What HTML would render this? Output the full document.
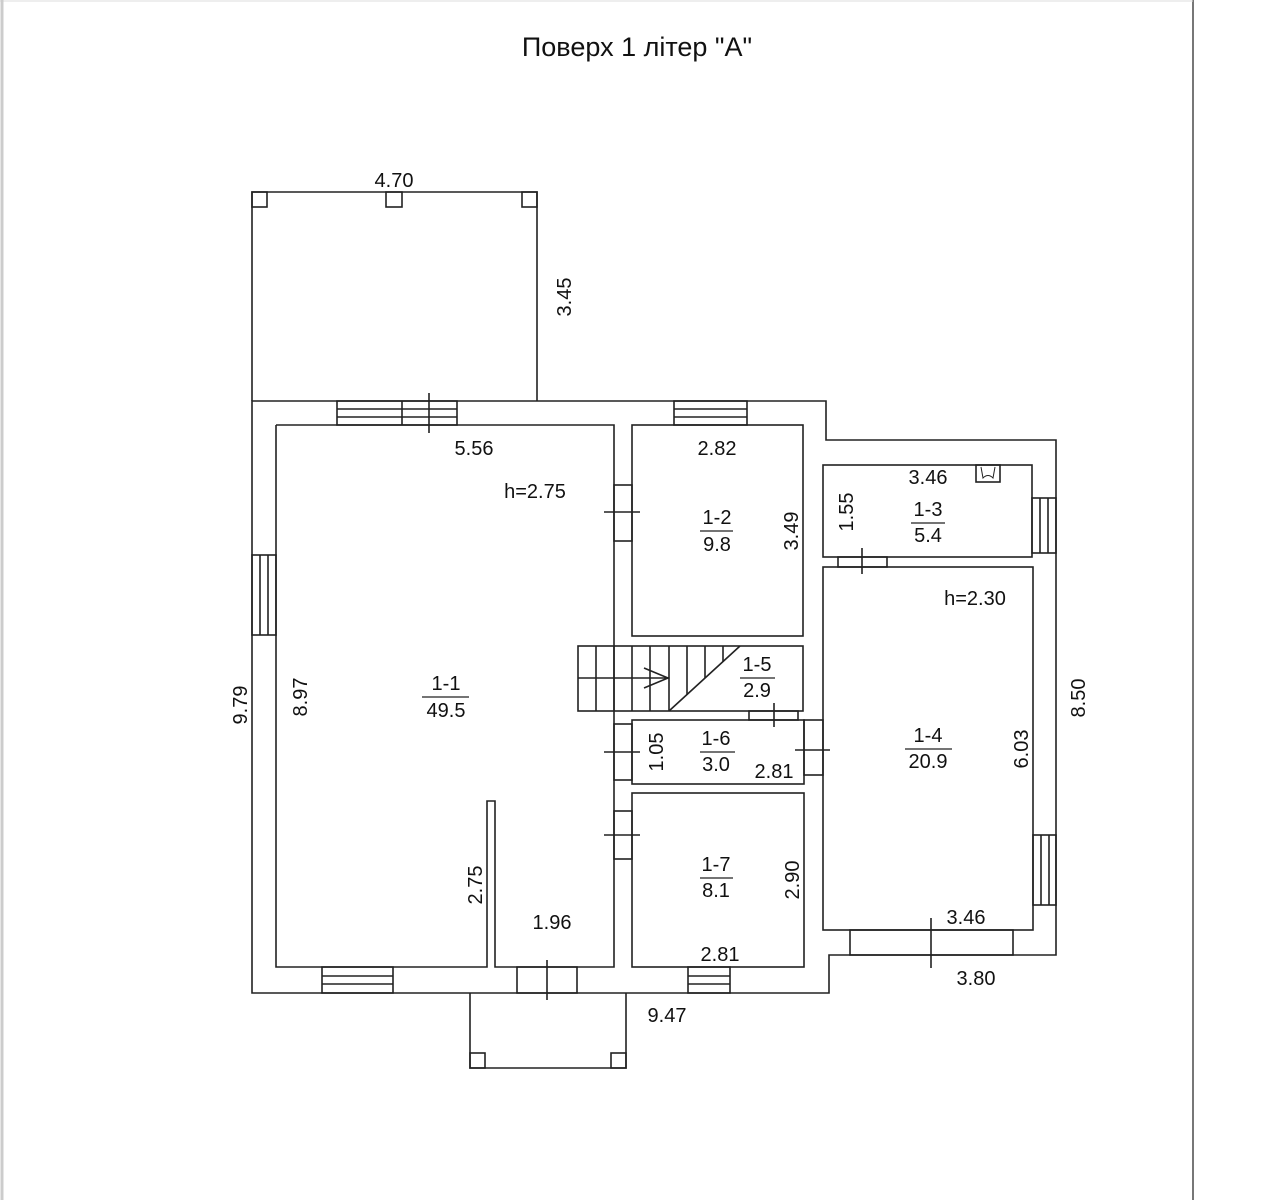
<!DOCTYPE html>
<html><head><meta charset="utf-8"><style>
html,body{margin:0;padding:0;background:#fff;}
svg{display:block}
text{font-family:"Liberation Sans",sans-serif;fill:#111;}
</style></head><body>
<svg width="1266" height="1200" viewBox="0 0 1266 1200" xmlns="http://www.w3.org/2000/svg">
<rect width="1266" height="1200" fill="#fff"/>
<line x1="1193" y1="0" x2="1193" y2="1200" stroke="#777" stroke-width="2"/>
<line x1="0" y1="1" x2="1193" y2="1" stroke="#ddd" stroke-width="1"/>
<line x1="2" y1="0" x2="2" y2="1200" stroke="#ccc" stroke-width="3"/>
<text x="637" y="56" font-size="27" text-anchor="middle">Поверх 1 літер "А"</text>
<g fill="none" stroke="#222" stroke-width="1.6">
<polyline points="252,401 252,192 537,192 537,401"/>
<rect x="252" y="192" width="15" height="15"/><rect x="386" y="192" width="16" height="15"/><rect x="522" y="192" width="15" height="15"/>
<polygon points="252,401 826,401 826,440 1056,440 1056,955 829,955 829,993 252,993"/>
<polyline points="470,993 470,1068 626,1068 626,993"/>
<rect x="470" y="1053" width="15" height="15"/><rect x="611" y="1053" width="15" height="15"/>
<polyline points="276,425 614,425 614,967 495,967 495,801 487,801 487,967 276,967 276,425"/>
<rect x="632" y="425" width="171" height="211"/>
<rect x="578" y="646" width="225" height="65"/>
<line x1="596" y1="646" x2="596" y2="711"/><line x1="614" y1="646" x2="614" y2="711"/><line x1="632" y1="646" x2="632" y2="711"/><line x1="650" y1="646" x2="650" y2="711"/><line x1="669" y1="646" x2="669" y2="711"/><line x1="687" y1="646" x2="687" y2="695"/><line x1="705" y1="646" x2="705" y2="678"/><line x1="723" y1="646" x2="723" y2="662"/>
<line x1="578" y1="678" x2="669" y2="678"/>
<line x1="669" y1="711" x2="740" y2="646"/>
<polyline points="644,668 668,678 644,688"/>
<rect x="632" y="720" width="172" height="64"/>
<rect x="632" y="793" width="172" height="174"/>
<rect x="823" y="465" width="209" height="92"/>
<rect x="976" y="465" width="24" height="17"/>
<rect x="823" y="567" width="210" height="363"/>
<g>
<rect x="337" y="401" width="120" height="24"/><line x1="337" y1="409" x2="457" y2="409"/><line x1="337" y1="417" x2="457" y2="417"/><line x1="402" y1="401" x2="402" y2="425"/><line x1="429" y1="393" x2="429" y2="433"/>
<rect x="674" y="401" width="73" height="24"/><line x1="674" y1="409" x2="747" y2="409"/><line x1="674" y1="417" x2="747" y2="417"/>
<rect x="252" y="555" width="24" height="80"/><line x1="260" y1="555" x2="260" y2="635"/><line x1="268" y1="555" x2="268" y2="635"/>
<rect x="1032" y="498" width="24" height="55"/><line x1="1040" y1="498" x2="1040" y2="553"/><line x1="1048" y1="498" x2="1048" y2="553"/>
<rect x="1033" y="835" width="23" height="70"/><line x1="1041" y1="835" x2="1041" y2="905"/><line x1="1049" y1="835" x2="1049" y2="905"/>
<rect x="322" y="967" width="71" height="26"/><line x1="322" y1="976" x2="393" y2="976"/><line x1="322" y1="984" x2="393" y2="984"/>
<rect x="688" y="967" width="42" height="26"/><line x1="688" y1="976" x2="730" y2="976"/><line x1="688" y1="984" x2="730" y2="984"/>
<rect x="850" y="930" width="163" height="25"/><line x1="931" y1="918" x2="931" y2="968"/>
</g>
<rect x="614" y="485" width="18" height="56"/><line x1="604" y1="512" x2="640" y2="512"/>
<rect x="614" y="724" width="18" height="56"/><line x1="604" y1="752" x2="640" y2="752"/>
<rect x="614" y="811" width="18" height="48"/><line x1="604" y1="835" x2="640" y2="835"/>
<rect x="804" y="720" width="19" height="55"/><line x1="795" y1="750" x2="830" y2="750"/>
<rect x="749" y="711" width="49" height="9"/><line x1="774" y1="703" x2="774" y2="727"/>
<rect x="838" y="557" width="49" height="10"/><line x1="862" y1="548" x2="862" y2="574"/>
<rect x="517" y="967" width="60" height="26"/><line x1="547" y1="960" x2="547" y2="1000"/>
<line x1="422" y1="697" x2="469" y2="697" stroke-width="1.2"/>
<line x1="700" y1="531" x2="733" y2="531" stroke-width="1.2"/>
<line x1="911" y1="523" x2="945" y2="523" stroke-width="1.2"/>
<line x1="905" y1="749" x2="952" y2="749" stroke-width="1.2"/>
<line x1="740" y1="678" x2="775" y2="678" stroke-width="1.2"/>
<line x1="700" y1="752" x2="735" y2="752" stroke-width="1.2"/>
<line x1="700" y1="878" x2="733" y2="878" stroke-width="1.2"/>
</g>
<g stroke="#222" stroke-width="1" fill="none"><path d="M981 467 L983 478 Q988 473 993 478 L995 467"/></g>
<g font-size="20" text-anchor="middle">
<text x="394" y="187">4.70</text>
<text x="474" y="455">5.56</text>
<text x="535" y="498">h=2.75</text>
<text x="717" y="455">2.82</text>
<text x="928" y="484">3.46</text>
<text x="975" y="605">h=2.30</text>
<text x="446" y="690">1-1</text><text x="446" y="717">49.5</text>
<text x="717" y="524">1-2</text><text x="717" y="551">9.8</text>
<text x="928" y="516">1-3</text><text x="928" y="542">5.4</text>
<text x="928" y="742">1-4</text><text x="928" y="768">20.9</text>
<text x="757" y="671">1-5</text><text x="757" y="697">2.9</text>
<text x="716" y="745">1-6</text><text x="716" y="771">3.0</text>
<text x="774" y="778">2.81</text>
<text x="716" y="871">1-7</text><text x="716" y="897">8.1</text>
<text x="552" y="929">1.96</text>
<text x="720" y="961">2.81</text>
<text x="966" y="924">3.46</text>
<text x="976" y="985">3.80</text>
<text x="667" y="1022">9.47</text>
</g>
<g font-size="20" text-anchor="middle">
<text transform="translate(571,297) rotate(-90)">3.45</text>
<text transform="translate(247,705) rotate(-90)">9.79</text>
<text transform="translate(307,697) rotate(-90)">8.97</text>
<text transform="translate(798,531) rotate(-90)">3.49</text>
<text transform="translate(853,512) rotate(-90)">1.55</text>
<text transform="translate(663,752) rotate(-90)">1.05</text>
<text transform="translate(1028,749) rotate(-90)">6.03</text>
<text transform="translate(1085,698) rotate(-90)">8.50</text>
<text transform="translate(482,885) rotate(-90)">2.75</text>
<text transform="translate(799,880) rotate(-90)">2.90</text>
</g>
</svg>
</body></html>
